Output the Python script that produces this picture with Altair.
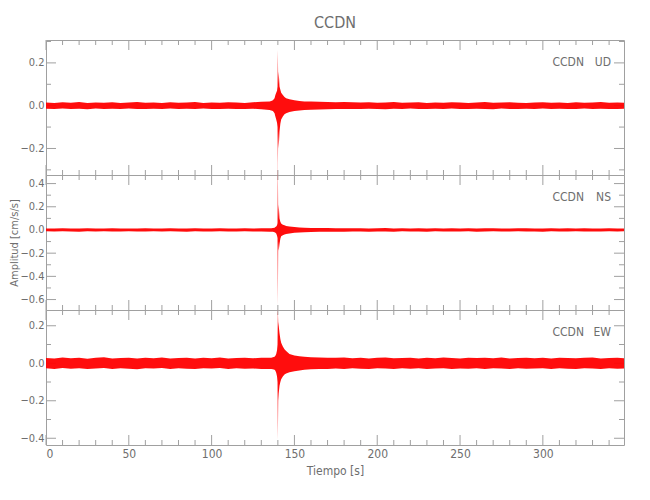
import altair as alt
import pandas as pd

# ---------------- text ----------------
TITLE = "CCDN"
STATION = "CCDN"
COMPONENTS = ["UD", "NS", "EW"]
X_LABEL = "Tiempo [s]"
Y_LABEL = "Amplitud [cm/s/s]"

# ---------------- axes ----------------
X_DOMAIN = [0, 349]
X_MAJOR = [0, 50, 100, 150, 200, 250, 300]
X_MINOR = [10, 20, 30, 40, 60, 70, 80, 90, 110, 120, 130, 140, 160, 170, 180, 190,
           210, 220, 230, 240, 260, 270, 280, 290, 310, 320, 330, 340]

Y_DOMAINS = {"UD": [-0.324, 0.307], "NS": [-0.69, 0.474], "EW": [-0.436, 0.284]}
Y_MAJOR = {"UD": [-0.2, 0.0, 0.2],
           "NS": [-0.6, -0.4, -0.2, 0.0, 0.2, 0.4],
           "EW": [-0.4, -0.2, 0.0, 0.2]}
Y_MINOR = {"UD": [-0.3, -0.1, 0.1, 0.3],
           "NS": [-0.5, -0.3, -0.1, 0.1, 0.3],
           "EW": [-0.3, -0.1, 0.1]}

# ---------------- waveform envelopes ----------------
TIME_PRE = [0, 5, 10, 15, 20, 25, 30, 35, 40, 45, 50, 55, 60, 65, 70, 75, 80, 85, 90, 95,
            100, 105, 110, 115, 120, 125, 130, 135]
TIME_EVENT = [136, 137, 138, 138.5, 139, 139.5, 139.8, 140, 140.2, 140.5, 141, 141.5, 142,
              143, 144, 145, 147, 150, 153, 156, 160, 165]
TIME_POST = [170, 175, 180, 185, 190, 195, 200, 205, 210, 215, 220, 225, 230, 235, 240, 245,
             250, 255, 260, 265, 270, 275, 280, 285, 290, 295, 300, 305, 310, 315, 320, 325,
             330, 335, 340, 345, 349]

UD_HI_PRE = [0.015, 0.013, 0.016, 0.014, 0.017, 0.013, 0.015, 0.014, 0.016, 0.013, 0.015, 0.017,
             0.014, 0.015, 0.013, 0.016, 0.014, 0.015, 0.017, 0.013, 0.015, 0.014, 0.016, 0.015,
             0.013, 0.016, 0.018, 0.02]
UD_LO_PRE = [-0.014, -0.016, -0.013, -0.015, -0.014, -0.017, -0.013, -0.015, -0.014, -0.016,
             -0.013, -0.015, -0.016, -0.014, -0.015, -0.013, -0.016, -0.014, -0.015, -0.013,
             -0.016, -0.015, -0.014, -0.016, -0.015, -0.014, -0.017, -0.02]
UD_HI_EV = [0.022, 0.025, 0.035, 0.05, 0.06, 0.07, 0.09, 0.26, 0.1, 0.16, 0.09, 0.075, 0.06,
            0.05, 0.04, 0.035, 0.03, 0.025, 0.022, 0.02, 0.019, 0.018]
UD_LO_EV = [-0.022, -0.025, -0.035, -0.05, -0.065, -0.08, -0.1, -0.31, -0.12, -0.2, -0.12,
            -0.085, -0.065, -0.05, -0.04, -0.035, -0.03, -0.025, -0.022, -0.02, -0.019, -0.018]
UD_HI_POST = [0.017, 0.016, 0.017, 0.016, 0.015, 0.016, 0.014, 0.015, 0.017, 0.014, 0.015, 0.016,
              0.013, 0.015, 0.014, 0.016, 0.015, 0.013, 0.015, 0.017, 0.014, 0.015, 0.016, 0.014,
              0.013, 0.015, 0.016, 0.014, 0.015, 0.013, 0.016, 0.014, 0.015, 0.017, 0.014, 0.015,
              0.014]
UD_LO_POST = [-0.017, -0.016, -0.016, -0.015, -0.016, -0.014, -0.015, -0.017, -0.014, -0.015,
              -0.013, -0.016, -0.015, -0.014, -0.016, -0.013, -0.015, -0.016, -0.014, -0.015,
              -0.017, -0.013, -0.015, -0.016, -0.014, -0.015, -0.013, -0.016, -0.014, -0.015,
              -0.016, -0.013, -0.015, -0.014, -0.016, -0.015, -0.014]

NS_HI_PRE = [0.013, 0.012, 0.014, 0.012, 0.013, 0.015, 0.012, 0.013, 0.014, 0.012, 0.013, 0.012,
             0.014, 0.013, 0.012, 0.015, 0.013, 0.012, 0.014, 0.013, 0.012, 0.014, 0.013, 0.012,
             0.014, 0.013, 0.014, 0.015]
NS_LO_PRE = [-0.012, -0.014, -0.012, -0.013, -0.015, -0.012, -0.013, -0.012, -0.014, -0.013,
             -0.012, -0.014, -0.013, -0.012, -0.014, -0.012, -0.013, -0.015, -0.012, -0.013,
             -0.014, -0.012, -0.013, -0.014, -0.012, -0.013, -0.014, -0.015]
NS_HI_EV = [0.015, 0.016, 0.02, 0.025, 0.03, 0.04, 0.06, 0.58, 0.1, 0.22, 0.1, 0.07, 0.055,
            0.045, 0.04, 0.035, 0.03, 0.025, 0.022, 0.02, 0.018, 0.016]
NS_LO_EV = [-0.015, -0.016, -0.02, -0.025, -0.03, -0.05, -0.07, -0.66, -0.1, -0.18, -0.12,
            -0.075, -0.055, -0.045, -0.04, -0.035, -0.03, -0.025, -0.022, -0.02, -0.018, -0.016]
NS_HI_POST = [0.016, 0.015, 0.015, 0.014, 0.015, 0.013, 0.014, 0.016, 0.013, 0.014, 0.012, 0.015,
              0.013, 0.014, 0.013, 0.015, 0.012, 0.014, 0.013, 0.015, 0.014, 0.012, 0.013, 0.015,
              0.014, 0.013, 0.012, 0.014, 0.013, 0.015, 0.012, 0.014, 0.013, 0.012, 0.014, 0.013,
              0.012]
NS_LO_POST = [-0.016, -0.015, -0.015, -0.014, -0.013, -0.015, -0.014, -0.013, -0.015, -0.012,
              -0.014, -0.013, -0.015, -0.012, -0.014, -0.013, -0.014, -0.012, -0.015, -0.013,
              -0.012, -0.014, -0.013, -0.012, -0.014, -0.013, -0.015, -0.012, -0.013, -0.014,
              -0.012, -0.013, -0.014, -0.013, -0.012, -0.013, -0.012]

EW_HI_PRE = [0.028, 0.025, 0.031, 0.027, 0.03, 0.024, 0.029, 0.032, 0.026, 0.028, 0.03, 0.025,
             0.029, 0.027, 0.031, 0.026, 0.028, 0.03, 0.025, 0.029, 0.027, 0.031, 0.026, 0.028,
             0.03, 0.027, 0.029, 0.03]
EW_LO_PRE = [-0.027, -0.03, -0.025, -0.029, -0.026, -0.031, -0.028, -0.025, -0.03, -0.027,
             -0.029, -0.032, -0.026, -0.028, -0.025, -0.03, -0.027, -0.029, -0.031, -0.026,
             -0.028, -0.025, -0.03, -0.027, -0.029, -0.028, -0.03, -0.031]
EW_HI_EV = [0.03, 0.032, 0.035, 0.04, 0.05, 0.07, 0.1, 0.29, 0.22, 0.2, 0.16, 0.13, 0.11, 0.09,
            0.075, 0.065, 0.05, 0.042, 0.038, 0.035, 0.032, 0.031]
EW_LO_EV = [-0.03, -0.032, -0.035, -0.04, -0.05, -0.07, -0.1, -0.41, -0.2, -0.16, -0.12, -0.1,
            -0.085, -0.07, -0.06, -0.055, -0.048, -0.042, -0.038, -0.035, -0.032, -0.031]
EW_HI_POST = [0.03, 0.029, 0.031, 0.027, 0.03, 0.026, 0.029, 0.031, 0.027, 0.028, 0.03, 0.026,
              0.029, 0.027, 0.031, 0.028, 0.026, 0.03, 0.028, 0.029, 0.027, 0.031, 0.026, 0.028,
              0.03, 0.027, 0.029, 0.026, 0.03, 0.028, 0.027, 0.029, 0.031, 0.026, 0.028, 0.03,
              0.027]
EW_LO_POST = [-0.031, -0.028, -0.03, -0.026, -0.029, -0.031, -0.027, -0.028, -0.03, -0.026,
              -0.029, -0.027, -0.031, -0.028, -0.026, -0.03, -0.028, -0.029, -0.027, -0.031,
              -0.026, -0.028, -0.03, -0.027, -0.029, -0.028, -0.026, -0.03, -0.027, -0.029,
              -0.031, -0.027, -0.028, -0.03, -0.026, -0.029, -0.028]

TIME = TIME_PRE + TIME_EVENT + TIME_POST
ENVELOPES = {
    "UD": (UD_HI_PRE + UD_HI_EV + UD_HI_POST, UD_LO_PRE + UD_LO_EV + UD_LO_POST),
    "NS": (NS_HI_PRE + NS_HI_EV + NS_HI_POST, NS_LO_PRE + NS_LO_EV + NS_LO_POST),
    "EW": (EW_HI_PRE + EW_HI_EV + EW_HI_POST, EW_LO_PRE + EW_LO_EV + EW_LO_POST),
}

# ---------------- style ----------------
W, H = 578, 135
AXIS_COLOR = "#a0a0a0"
TEXT_COLOR = "#6e6e6e"
FONT = "Liberation Sans Narrow, DejaVu Sans Condensed, Roboto"
RED = "#ff0000"


def panel(comp, first, last):
    hi, lo = ENVELOPES[comp]
    df = pd.DataFrame({"t": TIME, "hi": hi, "lo": lo})
    xs = alt.Scale(domain=X_DOMAIN, nice=False, zero=False)
    ys = alt.Scale(domain=Y_DOMAINS[comp], nice=False, zero=False)
    if last:
        xaxis = alt.Axis(values=X_MAJOR, format="d", ticks=False, domain=False, grid=False,
                         labelPadding=3, labelFontSize=12, title=X_LABEL, titlePadding=6,
                         titleFontSize=12, titleFontWeight="normal")
    else:
        xaxis = None
    yaxis = alt.Axis(values=Y_MAJOR[comp], format=".1f", ticks=False, domain=False, grid=False,
                     labelPadding=2, labelFontSize=11,
                     title=Y_LABEL if comp == "NS" else None, titlePadding=0,
                     titleFontSize=11, titleFontWeight="normal")

    wave = alt.Chart(df).mark_area(color=RED, clip=False, opacity=0.95).encode(
        x=alt.X("t:Q", scale=xs, axis=xaxis),
        y=alt.Y("lo:Q", scale=ys, axis=yaxis),
        y2="hi:Q",
    )

    xmaj = pd.DataFrame({"t": X_MAJOR})
    xmin = pd.DataFrame({"t": X_MINOR})
    ymaj = pd.DataFrame({"lo": Y_MAJOR[comp]})
    ymin = pd.DataFrame({"lo": Y_MINOR[comp]})

    def xr(d, y0, y1):
        return alt.Chart(d).mark_rule(color=AXIS_COLOR, strokeWidth=1).encode(
            x=alt.X("t:Q", scale=xs, axis=xaxis), y=alt.value(y0), y2=alt.value(y1))

    def yr(d, x0, x1):
        return alt.Chart(d).mark_rule(color=AXIS_COLOR, strokeWidth=1).encode(
            y=alt.Y("lo:Q", scale=ys, axis=yaxis), x=alt.value(x0), x2=alt.value(x1))

    ticks = [
        xr(xmaj, 0, 10), xr(xmin, 0, 5), xr(xmaj, H - 10, H), xr(xmin, H - 5, H),
        yr(ymaj, 0, 10), yr(ymin, 0, 5), yr(ymaj, W - 10, W), yr(ymin, W - 5, W),
    ]

    lab = pd.DataFrame({"s": [STATION], "c": [comp]})
    st = alt.Chart(lab).mark_text(align="right", baseline="middle", fontSize=12,
                                  color=TEXT_COLOR, font=FONT).encode(
        text="s:N", x=alt.value(W - 40), y=alt.value(22))
    cp = alt.Chart(lab).mark_text(align="right", baseline="middle", fontSize=12,
                                  color=TEXT_COLOR, font=FONT).encode(
        text="c:N", x=alt.value(W - 13), y=alt.value(22))

    layer = alt.layer(*ticks, wave, st, cp).properties(width=W, height=H)
    if first:
        layer = layer.properties(title=alt.TitleParams(TITLE, fontSize=16, color=TEXT_COLOR,
                                                       font=FONT, fontWeight="normal",
                                                       anchor="middle", frame="group",
                                                       offset=9))
    return layer


panels = [panel(c, i == 0, i == len(COMPONENTS) - 1) for i, c in enumerate(COMPONENTS)]

chart = alt.vconcat(*panels, spacing=0, bounds="flush").properties(
    padding={"left": 0, "top": 6, "right": 5, "bottom": 5}
).configure_view(
    stroke=AXIS_COLOR, strokeWidth=1
).configure_axis(
    labelFont=FONT, titleFont=FONT, labelColor=TEXT_COLOR, titleColor=TEXT_COLOR
).configure_title(font=FONT)

chart.save("out.html", embed_options={"renderer": "svg", "actions": False})
